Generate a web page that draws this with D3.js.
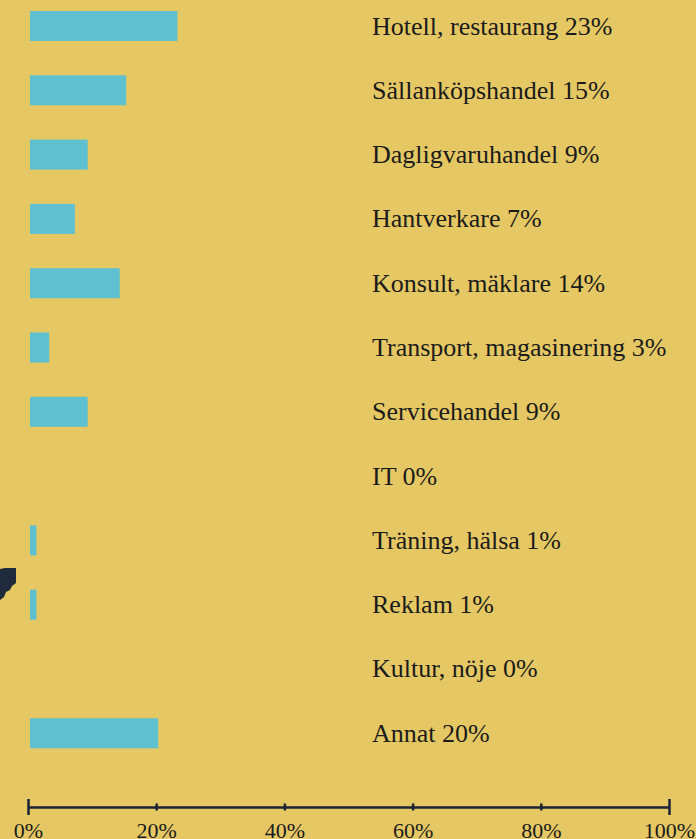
<!doctype html>
<html>

<head>
	<meta charset="utf-8">
	<style>
		html, body { margin: 0; padding: 0; background: #e5c863; overflow: hidden; }
		svg { display: block; }
	</style>
</head>

<body>
	<div class="figure"></div>

	<script src="https://d3js.org/d3.v7.min.js"></script>
	<script>
		// branscher och andel (%)
		const categories = ["Hotell, restaurang", "Sällanköpshandel", "Dagligvaruhandel", "Hantverkare",
			"Konsult, mäklare", "Transport, magasinering", "Servicehandel", "IT", "Träning, hälsa",
			"Reklam", "Kultur, nöje", "Annat"];
		const values = [23, 15, 9, 7, 14, 3, 9, 0, 1, 1, 0, 20];
		const tickValues = [0, 20, 40, 60, 80, 100];

		const W = 696, H = 839;

		let svg = d3.select(".figure")
			.append("svg")
			.attr("width", W)
			.attr("height", H)
			.style("background-color", "#e5c863");

		let x = d3.scaleLinear().domain([0, 100]).range([28, 669]);
		let y = d3.scaleBand().domain(categories).range([11, 748.3]).paddingInner(0.533).paddingOuter(0);

		// staplar
		svg.selectAll("rect.bar")
			.data(categories.map((c, i) => ({ c: c, v: values[i] })).filter(d => d.v > 0))
			.enter().append("rect")
			.attr("class", "bar")
			.attr("x", x(0) + 2)
			.attr("y", d => y(d.c))
			.attr("width", d => x(d.v) - x(0))
			.attr("height", y.bandwidth())
			.style("fill", "#5fc1d0");

		// etiketter
		svg.selectAll("text.lbl")
			.data(categories)
			.enter().append("text")
			.attr("class", "lbl")
			.attr("x", 372)
			.attr("y", d => y(d) + y.bandwidth() / 2 + 8.5)
			.style("font-family", "'Liberation Serif', 'DejaVu Serif', serif")
			.style("font-size", "26px")
			.style("fill", "#1b1b1b")
			.text((d, i) => d + " " + values[i] + "%");

		// axel
		let axis = svg.append("g")
			.attr("transform", "translate(0,807)")
			.call(d3.axisBottom(x).tickValues(tickValues).tickFormat(d => d + "%").tickSizeOuter(0).tickSize(0).tickPadding(0));

		axis.select(".domain").attr("stroke", "#1c2236").attr("stroke-width", 2.5);
		axis.selectAll(".tick line")
			.attr("stroke", "#1c2236")
			.attr("stroke-width", 2.5)
			.attr("y1", (d, i) => (i === 0 || i === tickValues.length - 1) ? -8 : -3.5)
			.attr("y2", (d, i) => (i === 0 || i === tickValues.length - 1) ? 8 : 3.5);
		axis.selectAll(".tick text")
			.attr("y", 31)
			.attr("dy", 0)
			.style("font-family", "'Liberation Serif', 'DejaVu Serif', serif")
			.style("font-size", "22px")
			.style("fill", "#1b1b1b");

		// avklippt ikon i vänsterkanten
		svg.append("path")
			.attr("d", "M0,569 L5,568 L16,568 L16,583 L12,586 L10,590 L6,592 L4,597 L0,600 Z")
			.style("fill", "#1f2b3b");
	</script>

</body>

</html>
